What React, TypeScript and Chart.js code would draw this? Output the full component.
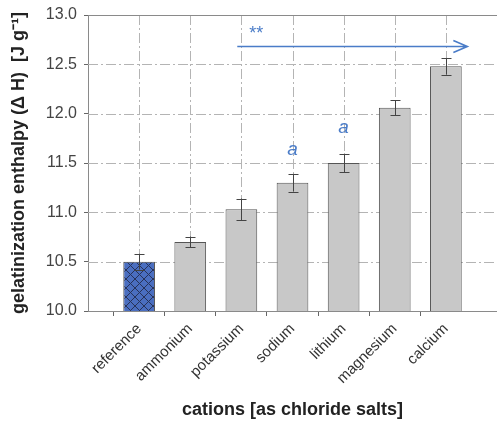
import React, { useEffect, useRef } from "react";
import { Chart, registerables } from "chart.js";

Chart.register(...registerables);

const categories = ["reference", "ammonium", "potassium", "sodium", "lithium", "magnesium", "calcium"];
const enthalpy = [10.5, 10.7, 11.03, 11.3, 11.5, 12.06, 12.48];
const errors = [0.08, 0.055, 0.11, 0.09, 0.095, 0.075, 0.085];
const letterMarks = ["", "", "", "a", "a", "", ""];
const letterValues = [0, 0, 0, 11.63, 11.86, 0, 0];
const yTicks = [10.0, 10.5, 11.0, 11.5, 12.0, 12.5, 13.0];
const arrowValue = 12.685;
const arrowStart = 2.92;
const arrowEnd = 7.42;
const starsText = "**";
const starsValue = 12.85;

const labels = ["", ...categories, ""];
const values = [null, ...enthalpy, null];

const BLUE = "#4a7cc8";
const FONT = "'Liberation Sans', Arial, sans-serif";

function makePattern(): CanvasPattern | string {
  const c = document.createElement("canvas");
  const s = 9;
  c.width = s;
  c.height = s;
  const g = c.getContext("2d");
  if (!g) return "#4a6ec0";
  g.fillStyle = "#4a6ec0";
  g.fillRect(0, 0, s, s);
  g.strokeStyle = "#27335a";
  g.lineWidth = 1;
  g.beginPath();
  g.moveTo(0, 0);
  g.lineTo(s, s);
  g.moveTo(s, 0);
  g.lineTo(0, s);
  g.stroke();
  const p = g.createPattern(c, "repeat");
  return p || "#4a6ec0";
}

const overlay = {
  id: "overlay",
  beforeDatasetsDraw(chart: any) {
    const { ctx, chartArea, scales } = chart;
    const x = scales.x;
    const y = scales.y;
    ctx.save();
    ctx.strokeStyle = "#b4b4b4";
    ctx.lineWidth = 1;
    ctx.setLineDash([10, 3, 2, 3]);
    yTicks.forEach((v) => {
      if (v === 10 || v === 13) return;
      const py = Math.round(y.getPixelForValue(v)) + 0.5;
      ctx.beginPath();
      ctx.moveTo(chartArea.left, py);
      ctx.lineTo(chartArea.right, py);
      ctx.stroke();
    });
    categories.forEach((_, i) => {
      const px = Math.round(x.getPixelForValue(i + 1)) + 0.5;
      ctx.beginPath();
      ctx.moveTo(px, chartArea.top);
      ctx.lineTo(px, chartArea.bottom);
      ctx.stroke();
    });
    ctx.setLineDash([]);
    ctx.strokeStyle = "#8a8a8a";
    ctx.beginPath();
    ctx.moveTo(chartArea.left, chartArea.top + 0.5);
    ctx.lineTo(chartArea.right, chartArea.top + 0.5);
    ctx.stroke();
    ctx.restore();
  },
  afterDatasetsDraw(chart: any) {
    const { ctx, scales } = chart;
    const x = scales.x;
    const y = scales.y;
    ctx.save();
    ctx.strokeStyle = "#444";
    ctx.lineWidth = 1;
    enthalpy.forEach((v, i) => {
      const px = Math.round(x.getPixelForValue(i + 1)) + 0.5;
      const top = y.getPixelForValue(v + errors[i]);
      const bot = y.getPixelForValue(v - errors[i]);
      ctx.beginPath();
      ctx.moveTo(px, top);
      ctx.lineTo(px, bot);
      ctx.moveTo(px - 5, Math.round(top) + 0.5);
      ctx.lineTo(px + 5, Math.round(top) + 0.5);
      ctx.moveTo(px - 5, Math.round(bot) + 0.5);
      ctx.lineTo(px + 5, Math.round(bot) + 0.5);
      ctx.stroke();
    });
    ctx.fillStyle = BLUE;
    ctx.font = `italic 19px ${FONT}`;
    ctx.textAlign = "center";
    ctx.textBaseline = "middle";
    letterMarks.forEach((t, i) => {
      if (!t) return;
      ctx.fillText(t, x.getPixelForValue(i + 1), y.getPixelForValue(letterValues[i]));
    });
    const ay = Math.round(y.getPixelForValue(arrowValue)) + 0.5;
    const ax0 = x.getPixelForValue(arrowStart);
    const ax1 = x.getPixelForValue(arrowEnd);
    ctx.strokeStyle = BLUE;
    ctx.lineWidth = 1.6;
    ctx.beginPath();
    ctx.moveTo(ax0, ay);
    ctx.lineTo(ax1, ay);
    ctx.moveTo(ax1 - 14, ay - 6);
    ctx.lineTo(ax1, ay);
    ctx.lineTo(ax1 - 14, ay + 6);
    ctx.stroke();
    ctx.font = `18px ${FONT}`;
    ctx.textAlign = "left";
    ctx.fillText(starsText, ax0 + 12, y.getPixelForValue(starsValue) + 4);
    ctx.restore();
  },
};

export default function App() {
  const ref = useRef<HTMLCanvasElement | null>(null);
  useEffect(() => {
    if (!ref.current) return;
    const pattern = makePattern();
    const bg = values.map((_, i) => (i === 1 ? pattern : "#c8c8c8"));
    const chart = new Chart(ref.current, {
      type: "bar",
      data: {
        labels,
        datasets: [
          {
            data: values as any,
            backgroundColor: bg as any,
            borderColor: "#555555",
            borderWidth: 1,
            categoryPercentage: 1,
            barPercentage: 0.62,
          },
        ],
      },
      options: {
        animation: false,
        responsive: false,
        maintainAspectRatio: false,
        layout: { padding: { top: 15, left: 0, right: 0, bottom: 0 } },
        plugins: { legend: { display: false }, tooltip: { enabled: false } },
        scales: {
          x: {
            offset: false,
            afterFit: (s: any) => {
              s.height = 117;
              s.paddingLeft = 0;
              s.paddingRight = 0;
            },
            border: { display: true, color: "#8a8a8a", width: 1 },
            grid: {
              drawOnChartArea: false,
              drawTicks: true,
              tickLength: 5,
              color: (c: any) => (c.index === 0 || c.index === labels.length - 1 ? "rgba(0,0,0,0)" : "#666"),
            },
            ticks: {
              autoSkip: false,
              maxRotation: 45,
              minRotation: 45,
              padding: 4,
              color: "#333",
              font: { family: FONT, size: 15 },
            },
            title: {
              display: true,
              text: "cations [as chloride salts]",
              color: "#222",
              font: { family: FONT, size: 18, weight: "bold" },
              padding: { top: 0, bottom: 7 },
            },
          },
          y: {
            min: 10,
            max: 13,
            afterFit: (s: any) => {
              s.width = 88;
              s.paddingTop = 0;
              s.paddingBottom = 0;
            },
            afterBuildTicks: (s: any) => {
              s.ticks = yTicks.map((v) => ({ value: v }));
            },
            border: { display: true, color: "#8a8a8a", width: 1 },
            grid: { drawOnChartArea: false, drawTicks: true, tickLength: 4, color: "#666" },
            ticks: {
              padding: 7,
              color: "#444",
              font: { family: FONT, size: 16 },
              callback: (v: any) => Number(v).toFixed(1),
            },
            title: {
              display: true,
              text: "gelatinization enthalpy (\u0394 H)  [J g\u207B\u00B9]",
              color: "#222",
              font: { family: FONT, size: 18, weight: "bold" },
              padding: { top: 8, bottom: 0 },
            },
          },
        },
      },
      plugins: [overlay],
    });
    return () => chart.destroy();
  }, []);
  return (
    <div style={{ position: "fixed", left: 0, top: 0, width: 497, height: 428 }}>
      <canvas ref={ref} width={497} height={428} style={{ width: 497, height: 428 }} />
    </div>
  );
}
